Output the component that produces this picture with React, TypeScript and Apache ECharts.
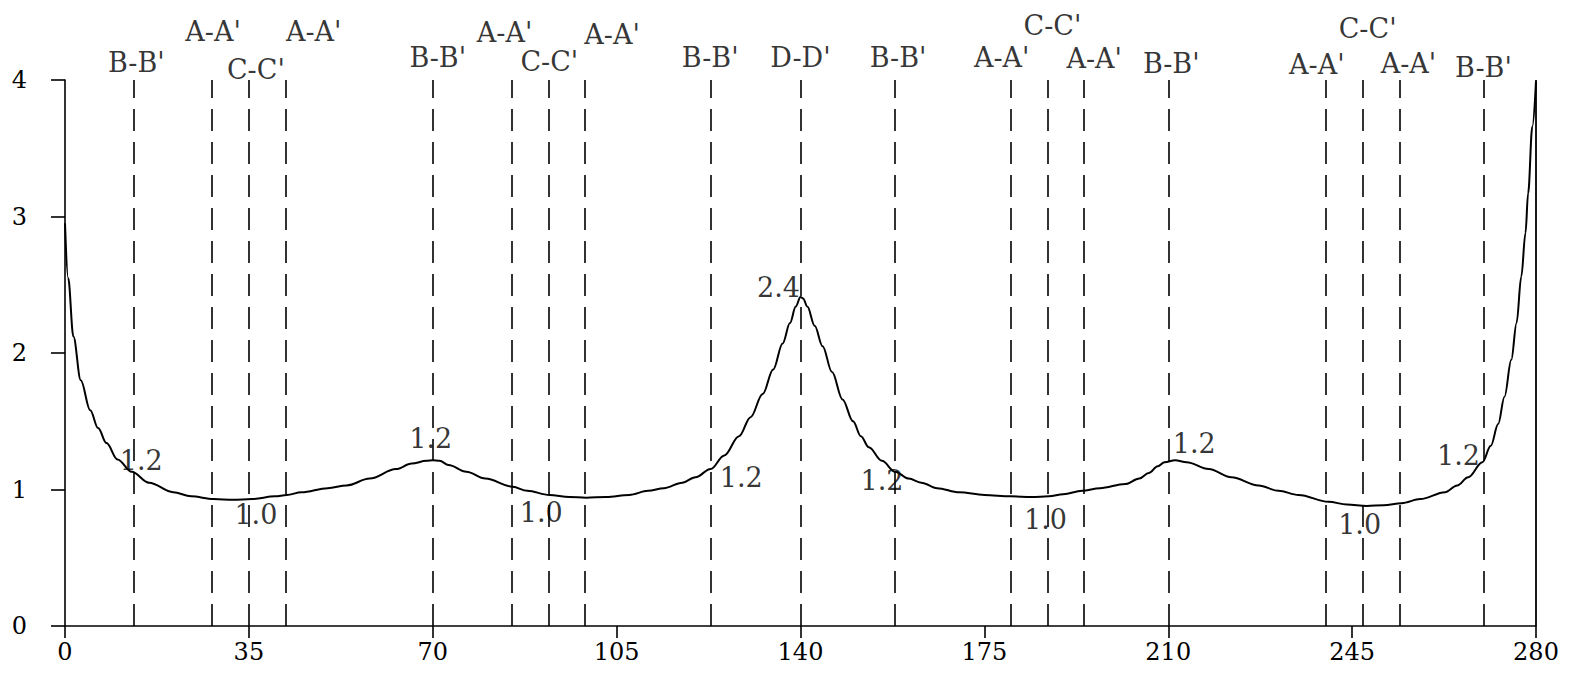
import React, { useEffect, useRef } from "react";
import * as echarts from "echarts";

// Curve (x in axis units, y values)
const curveX = [0, 0.6, 1.6, 3, 4.8, 6.3, 7.9, 10, 12.7, 16, 20.6, 24, 28.3, 32, 35.6, 40, 42.2, 45, 50, 53.6, 58, 63, 66, 68.8, 70, 71.3, 73, 76.4, 80, 85.2, 88, 92.2, 96, 99.2, 103, 107.4, 111, 114, 117.5, 120, 122.9, 125.5, 128.3, 130.5, 132.8, 134.8, 136.6, 138, 139.1, 140, 140.5, 141.3, 142.7, 144.2, 146, 148, 150, 151.5, 153, 155.5, 158, 160.6, 163, 166, 170.2, 175, 180, 184, 187.3, 190, 193.6, 197, 201.8, 204.5, 206.3, 208, 209.3, 211.3, 213.5, 217.7, 222, 227.2, 231, 234.8, 240.5, 244, 247.8, 251, 254.4, 258, 262.7, 265, 267.1, 269.8, 271.4, 272.8, 274, 275.3, 276.3, 277.2, 278, 278.5, 279.3, 280];
const curveY = [2.95, 2.55, 2.12, 1.8, 1.58, 1.45, 1.34, 1.22, 1.13, 1.05, 0.98, 0.95, 0.93, 0.925, 0.93, 0.95, 0.96, 0.98, 1.01, 1.03, 1.08, 1.15, 1.19, 1.21, 1.215, 1.21, 1.18, 1.13, 1.08, 1.02, 0.99, 0.96, 0.945, 0.94, 0.945, 0.96, 0.99, 1.01, 1.05, 1.09, 1.15, 1.25, 1.39, 1.53, 1.7, 1.88, 2.07, 2.22, 2.34, 2.41, 2.4, 2.34, 2.2, 2.05, 1.86, 1.66, 1.5, 1.39, 1.31, 1.21, 1.13, 1.08, 1.05, 1.01, 0.98, 0.96, 0.95, 0.945, 0.95, 0.965, 0.99, 1.01, 1.04, 1.08, 1.12, 1.17, 1.2, 1.215, 1.2, 1.15, 1.09, 1.03, 0.99, 0.96, 0.91, 0.89, 0.88, 0.885, 0.9, 0.93, 0.98, 1.03, 1.09, 1.2, 1.32, 1.48, 1.68, 1.95, 2.22, 2.56, 2.88, 3.17, 3.66, 3.99];

// Section lines
const sectionX = [13, 28, 35, 42, 70, 85, 92, 99, 123, 140, 158, 180, 187, 194, 210, 240, 247, 254, 270];
const sectionNames = ["B-B'", "A-A'", "C-C'", "A-A'", "B-B'", "A-A'", "C-C'", "A-A'", "B-B'", "D-D'", "B-B'", "A-A'", "C-C'", "A-A'", "B-B'", "A-A'", "C-C'", "A-A'", "B-B'"];

// Value annotations
const valueLabelX = [13, 35, 70, 92, 123, 140, 158, 187, 210, 247, 270];
const valueLabelV = [1.2, 1.0, 1.2, 1.0, 1.2, 2.4, 1.2, 1.0, 1.2, 1.0, 1.2];

// Axis ticks
const xMin = 0, xMax = 280, xStep = 35;
const yMin = 0, yMax = 4, yStep = 1;

// Layout (pixel offsets of texts)
const sectionDx = [3, 1, 7, 28, 5, -7, 1, 27, -1, 0, 3, -9, 5, 10, 3, -9, 5, 9, 0];
const sectionCy = [62, 31, 69, 31, 57, 32, 61, 34, 57, 57, 57, 57, 25, 58, 63, 64, 28, 63, 67];
const valueOffsets = [[8, -2], [7, 25], [-2, -24], [-7, 23], [30, 15], [-22, -11], [-13, 18], [-2, 30], [26, -19], [-3, 35], [-25, -7]];

const FONT = "DejaVu Serif";
const GRID_TOP = 80;

export default function App() {
  const ref = useRef<HTMLDivElement>(null);
  useEffect(() => {
    if (!ref.current) return;
    const chart = echarts.init(ref.current, null, { renderer: "svg" });
    const curve = curveX.map((x, i) => [x, curveY[i]]);
    const marks: any[] = sectionX.map((x) => ({ xAxis: x }));
    marks.push({ xAxis: xMax, lineStyle: { type: "solid", width: 1.8, color: "#000" } });
    chart.setOption({
      animation: false,
      backgroundColor: "#fff",
      grid: { left: 65, right: 37, top: GRID_TOP, bottom: 66 },
      xAxis: {
        type: "value",
        min: xMin,
        max: xMax,
        interval: xStep,
        splitLine: { show: false },
        axisLine: { show: true, onZero: false, lineStyle: { color: "#000", width: 1.6 } },
        axisTick: { show: true, inside: false, length: 12, lineStyle: { color: "#000", width: 1.6 } },
        axisLabel: { color: "#000", fontFamily: FONT, fontSize: 24, margin: 14 },
      },
      yAxis: {
        type: "value",
        min: yMin,
        max: yMax,
        interval: yStep,
        splitLine: { show: false },
        axisLine: { show: true, onZero: false, lineStyle: { color: "#000", width: 1.6 } },
        axisTick: { show: true, inside: false, length: 14, lineStyle: { color: "#000", width: 1.6 } },
        axisLabel: { color: "#000", fontFamily: FONT, fontSize: 24, margin: 38 },
      },
      series: [
        {
          type: "line",
          data: curve,
          showSymbol: false,
          smooth: 0.35,
          smoothMonotone: "x",
          lineStyle: { color: "#000", width: 2 },
          silent: true,
          markLine: {
            silent: true,
            symbol: ["none", "none"],
            label: { show: false },
            lineStyle: { type: [22, 11], color: "#000", width: 1.6 },
            data: marks,
          },
        },
        {
          type: "scatter",
          symbolSize: 0,
          silent: true,
          data: sectionX.map((x, i) => ({
            value: [x, yMax],
            name: sectionNames[i],
            label: { offset: [sectionDx[i], sectionCy[i] - GRID_TOP] },
          })),
          label: {
            show: true,
            position: "inside",
            align: "center",
            verticalAlign: "middle",
            formatter: (p: any) => p.name,
            color: "#000",
            fontFamily: FONT,
            fontSize: 27,
          },
        },
        {
          type: "scatter",
          symbolSize: 0,
          silent: true,
          data: valueLabelX.map((x, i) => ({
            value: [x, valueLabelV[i]],
            label: { offset: valueOffsets[i] },
          })),
          label: {
            show: true,
            position: "inside",
            align: "center",
            verticalAlign: "middle",
            formatter: (p: any) => Number(p.value[1]).toFixed(1),
            color: "#000",
            fontFamily: FONT,
            fontSize: 27,
          },
        },
      ],
    });
    return () => chart.dispose();
  }, []);
  return (
    <div
      ref={ref}
      style={{ position: "fixed", left: 0, top: 0, width: 1573, height: 692, background: "#fff" }}
    />
  );
}
